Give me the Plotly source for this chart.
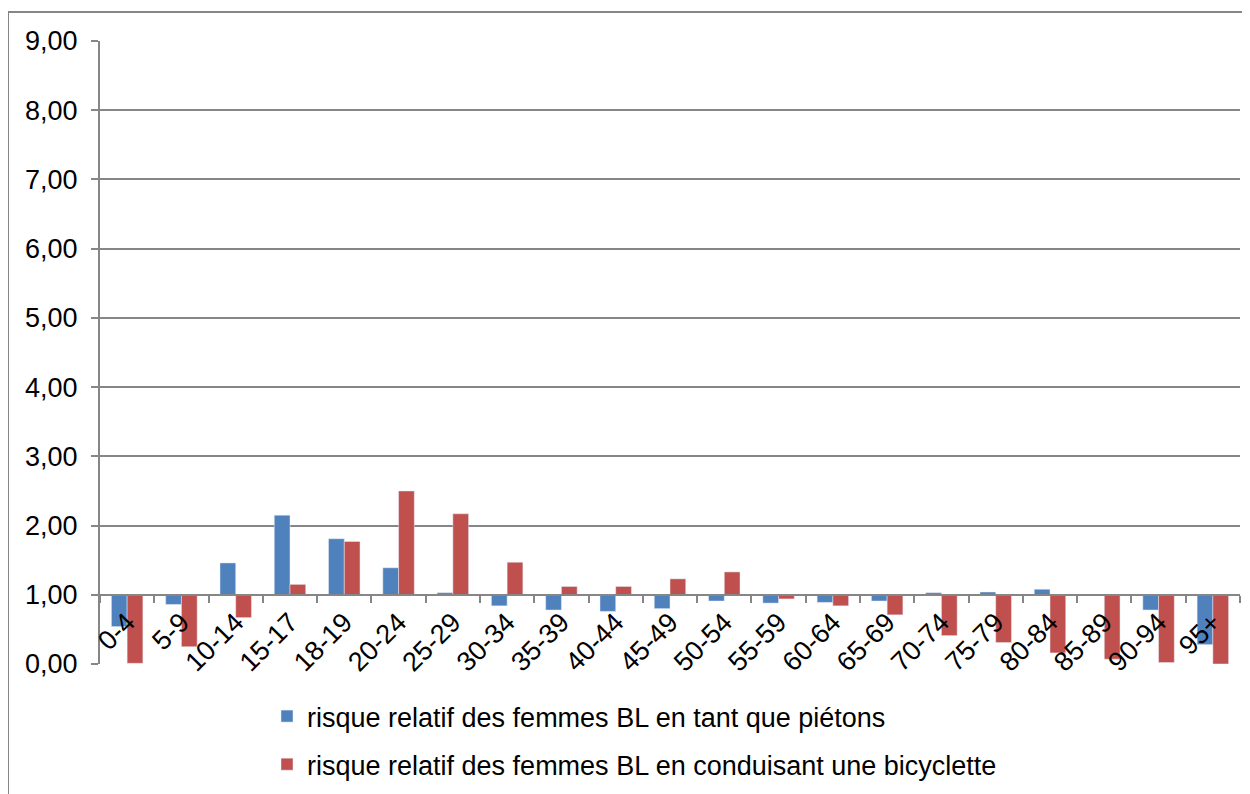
# risque relatif des femmes BL par tranche d'âge (piétons / bicyclette)

import plotly.graph_objects as go

age_groups = ['0-4', '5-9', '10-14', '15-17', '18-19', '20-24', '25-29', '30-34',
              '35-39', '40-44', '45-49', '50-54', '55-59', '60-64', '65-69', '70-74',
              '75-79', '80-84', '85-89', '90-94', '95+']

pietons = [0.54, 0.86, 1.46, 2.15, 1.81, 1.39, 1.03, 0.84, 0.78, 0.76, 0.80,
           0.91, 0.88, 0.89, 0.91, 1.03, 1.04, 1.08, 1.00, 0.78, 0.28]

bicyclette = [0.01, 0.25, 0.67, 1.15, 1.77, 2.50, 2.17, 1.47, 1.12, 1.12, 1.23,
              1.33, 0.94, 0.84, 0.71, 0.41, 0.31, 0.16, 0.07, 0.02, 0.00]

name_pietons = 'risque relatif des femmes BL en tant que piétons'
name_bicyclette = 'risque relatif des femmes BL en conduisant une bicyclette'

blue = '#4F81BD'
red = '#C0504D'
grid = '#868686'

# excel axis crosses at 1,00 so bars start from 1
fig = go.Figure()
fig.add_trace(go.Bar(x=age_groups, y=[v - 1 for v in pietons], base=1,
                     name=name_pietons, marker_color=blue, legendgroup='a',
                     customdata=pietons, hovertemplate='%{x}: %{customdata:.2f}'))
fig.add_trace(go.Bar(x=age_groups, y=[v - 1 for v in bicyclette], base=1,
                     name=name_bicyclette, marker_color=red, legendgroup='b',
                     customdata=bicyclette, hovertemplate='%{x}: %{customdata:.2f}'))

# page body has an 8px margin, so the figure is a bit smaller than the window
fig.update_layout(
    width=1242, height=786,
    margin=dict(l=92, r=10, t=33, b=130, autoexpand=False),
    plot_bgcolor='white', paper_bgcolor='white',
    separators=',.',
    font=dict(family='Liberation Sans, Arial', size=27, color='black'),
    barmode='group', bargap=0.42, bargroupgap=0,
    showlegend=True,
    legend=dict(x=0.1465, y=-0.045, xanchor='left', yanchor='top',
                orientation='v', tracegroupgap=10,
                font=dict(size=27)),
    hovermode='closest',
)

fig.update_yaxes(range=[0, 9], dtick=1, tickformat='.2f', domain=[0, 1],
                 showgrid=True, gridcolor=grid, gridwidth=1.5,
                 showline=True, linecolor=grid, linewidth=2,
                 ticks='outside', ticklen=7, tickcolor=grid, tickwidth=2,
                 ticklabelstandoff=8, zeroline=False)

fig.update_xaxes(anchor='free', position=1/9, showline=True, linecolor=grid,
                 linewidth=2, ticks='outside', ticklen=7, tickcolor=grid,
                 tickwidth=2, tickson='boundaries', tickangle=-45,
                 showgrid=False)

# outer chart border
fig.add_shape(type='rect', xref='paper', yref='paper',
              x0=-0.0807, x1=1.02, y0=-0.3, y1=1.0465,
              line=dict(color=grid, width=2))

fig.write_html("out.html")
